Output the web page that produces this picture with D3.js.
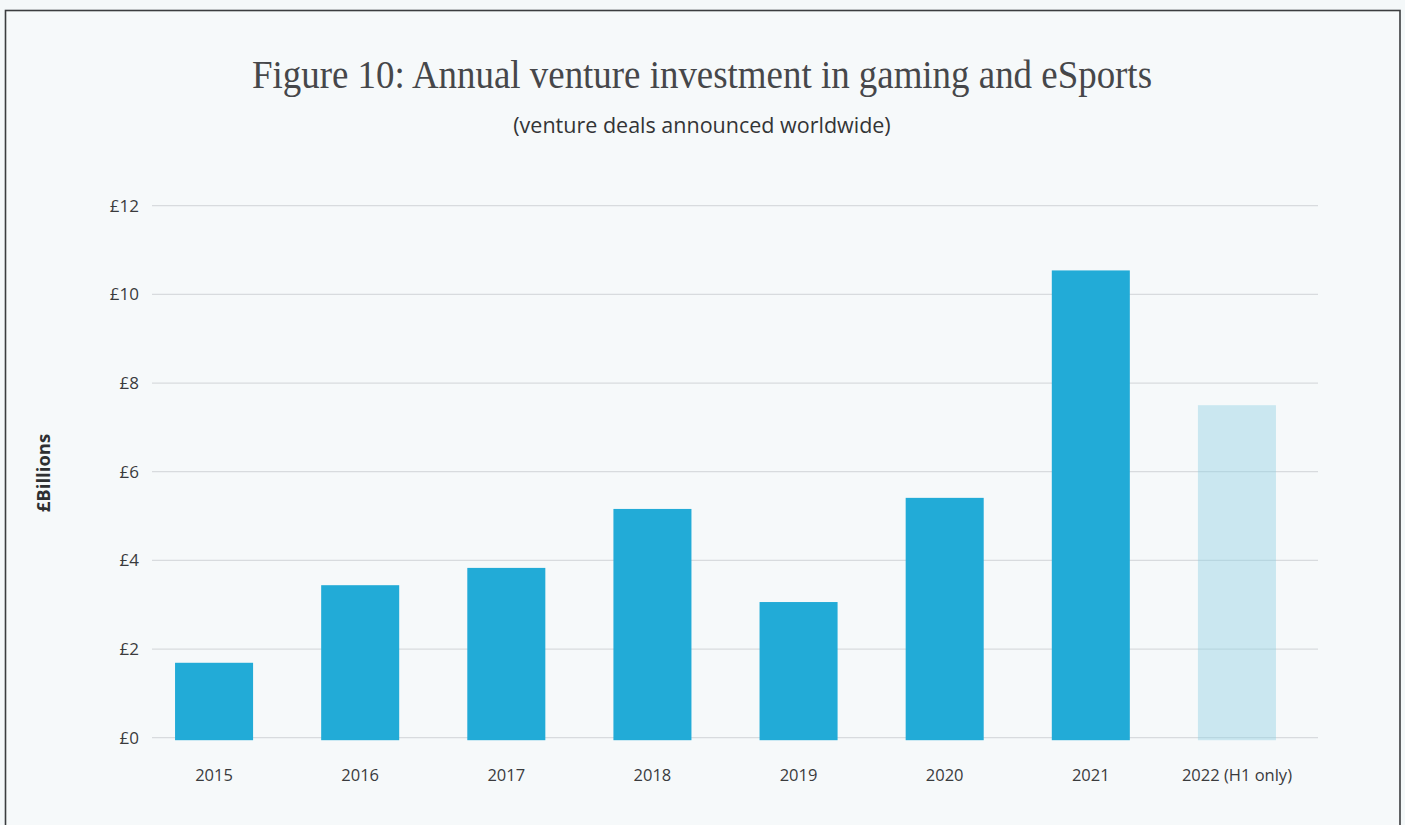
<!DOCTYPE html>
<html>
<head>
<meta charset="utf-8">
<script src="https://cdn.jsdelivr.net/npm/d3@7"></script>
<style>
  html, body { margin: 0; padding: 0; background: #f4f8f9; }
  svg { display: block; }
</style>
</head>
<body>
<svg id="chart" width="1405" height="825"></svg>
<script>
// Annual venture investment in gaming and eSports, £ billions
const years = ["2015", "2016", "2017", "2018", "2019", "2020", "2021", "2022 (H1 only)"];
const investment = [1.69, 3.44, 3.83, 5.16, 3.06, 5.41, 10.54, 7.5];
const partialYear = [false, false, false, false, false, false, false, true];
const yTicks = [0, 2, 4, 6, 8, 10, 12];

const titleText = "Figure 10: Annual venture investment in gaming and eSports";
const subtitleText = "(venture deals announced worldwide)";
const yAxisTitle = "£Billions";

const data = years.map((y, i) => ({ year: y, value: investment[i], partial: partialYear[i] }));

const svg = d3.select("#chart");
const W = 1405, H = 825;

// panel with a dark border on top, left and right
svg.append("rect").attr("x", 0).attr("y", 0).attr("width", W).attr("height", H).attr("fill", "#f4f8f9");
svg.append("rect").attr("x", 5.5).attr("y", 10.5).attr("width", 1394.5).attr("height", 830)
  .attr("fill", "#f6f9fa").attr("stroke", "#3b3d3f").attr("stroke-width", 1.6);

const gridLeft = 152, gridRight = 1318;
const y = d3.scaleLinear().domain([0, 12]).range([737.7, 205.7]);
const x = d3.scaleBand().domain(years).range([141, 1310]).paddingInner(0.466).paddingOuter(0.233);

// gridlines
svg.append("g").selectAll("line").data(yTicks).join("line")
  .attr("x1", gridLeft).attr("x2", gridRight)
  .attr("y1", d => y(d)).attr("y2", d => y(d))
  .attr("stroke", "#d8dbde").attr("stroke-width", 1.3);

// y axis labels
const yAxis = d3.axisLeft(y).tickValues(yTicks).tickSize(0).tickPadding(0).tickFormat(d => "£" + d);
svg.append("g").attr("transform", "translate(139,0)").call(yAxis)
  .call(g => g.select(".domain").remove())
  .call(g => g.selectAll("text")
    .attr("font-family", "'Open Sans', sans-serif").attr("font-size", 17)
    .attr("fill", "#3a3b3d"));

// bars
svg.append("g").selectAll("rect").data(data).join("rect")
  .attr("x", d => x(d.year))
  .attr("width", x.bandwidth())
  .attr("y", d => y(d.value))
  .attr("height", d => y(0) - y(d.value) + 2.5)
  .attr("fill", d => d.partial ? "#8ccfe2" : "#22abd7")
  .attr("fill-opacity", d => d.partial ? 0.42 : 1);

// x axis labels
const xAxis = d3.axisBottom(x).tickSize(0).tickPadding(0);
svg.append("g").attr("transform", "translate(0,769)").call(xAxis)
  .call(g => g.select(".domain").remove())
  .call(g => g.selectAll("text")
    .attr("font-family", "'Open Sans', sans-serif").attr("font-size", 16.5)
    .attr("fill", "#3a3b3d"));

// y axis title
svg.append("text")
  .attr("transform", "translate(50,473) rotate(-90)")
  .attr("text-anchor", "middle")
  .attr("font-family", "'Open Sans', sans-serif").attr("font-weight", "bold").attr("font-size", 18.5)
  .attr("fill", "#2e2f31")
  .text(yAxisTitle);

// title and subtitle
svg.append("text")
  .attr("x", 702).attr("y", 88)
  .attr("text-anchor", "middle")
  .attr("font-family", "'Liberation Serif', serif").attr("font-size", 40)
  .attr("textLength", 900).attr("lengthAdjust", "spacingAndGlyphs")
  .attr("fill", "#46474a")
  .text(titleText);

svg.append("text")
  .attr("x", 702).attr("y", 133)
  .attr("text-anchor", "middle")
  .attr("font-family", "'Open Sans', sans-serif").attr("font-size", 21.5)
  .attr("fill", "#333436")
  .text(subtitleText);
</script>
</body>
</html>
